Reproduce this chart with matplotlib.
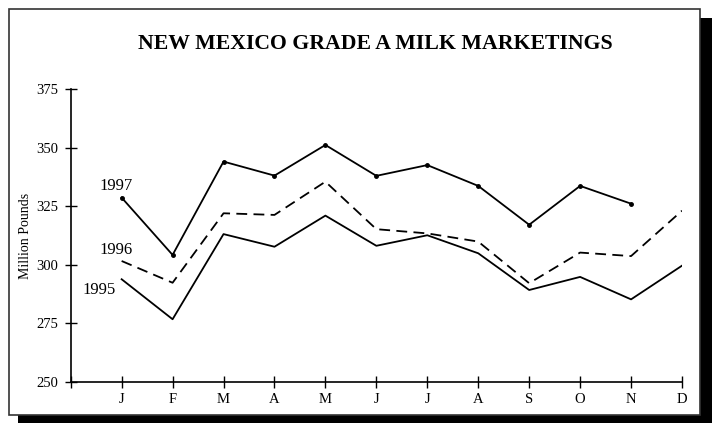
import matplotlib
matplotlib.use("Agg")
import matplotlib.pyplot as plt
from matplotlib.patches import Rectangle

# === Data (million pounds)
months = ['J', 'F', 'M', 'A', 'M', 'J', 'J', 'A', 'S', 'O', 'N', 'D']
y1995 = [293.8, 276.7, 313.1, 307.7, 321.0, 308.1, 312.6, 304.9, 289.2, 294.8, 285.2, 299.6]
y1996 = [301.6, 292.3, 322.0, 321.3, 335.5, 315.2, 313.4, 309.9, 292.1, 305.2, 303.7, 323.1]
y1997 = [328.7, 304.2, 344.1, 338.1, 351.2, 338.0, 342.6, 333.7, 317.1, 333.7, 326.1]
yticks = [250, 275, 300, 325, 350, 375]

plt.rcParams['font.family'] = ['Liberation Serif', 'DejaVu Serif']

W, H = 717, 424
fig = plt.figure(figsize=(W / 100, H / 100), dpi=100)

# === Frame with drop shadow (pixel coords converted to figure fraction)
def px_rect(x0, y0, x1, y1, **kw):
    return Rectangle((x0 / W, 1 - y1 / H), (x1 - x0) / W, (y1 - y0) / H,
                     transform=fig.transFigure, **kw)

fig.patches.append(px_rect(18, 18, 712, 423, facecolor='black', edgecolor='none', zorder=0))
fig.patches.append(px_rect(9, 9, 700, 415, facecolor='white', edgecolor='#333333', lw=1.2, zorder=1))

ax = fig.add_axes([70.7 / W, 1 - 381.7 / H, (682 - 70.7) / W, (381.7 - 89.3) / H])
ax.set_facecolor('none')
ax.set_zorder(5)

x = list(range(1, 13))
ax.plot(x, y1995, color='black', lw=1.3)
ax.plot(x, y1996, color='black', lw=1.3, linestyle=(0, (6, 3.5)))
ax.plot(x[:len(y1997)], y1997, color='black', lw=1.3, marker='o', markersize=2.5)

ax.text(0.9, y1997[0] + 1.5, '1997', ha='center', va='bottom', fontsize=12)
ax.text(0.9, y1996[0] + 1.2, '1996', ha='center', va='bottom', fontsize=12)
ax.text(0.55, y1995[0] - 4.8, '1995', ha='center', va='center', fontsize=12)

ax.set_xlim(0, 12)
ax.set_ylim(250, 375)
ax.set_xticks(range(0, 13))
ax.set_xticklabels([''] + months, fontsize=10.5)
ax.set_yticks(yticks)
ax.set_yticklabels([str(v) for v in yticks], fontsize=10.5)
ax.tick_params(axis='both', direction='inout', length=9, width=1, pad=4.5)
ax.tick_params(axis='x', pad=3.5)
ax.spines['top'].set_visible(False)
ax.spines['right'].set_visible(False)
ax.spines['left'].set_linewidth(1.2)
ax.spines['bottom'].set_linewidth(1.2)
ax.set_ylabel('Million Pounds', fontsize=10, labelpad=3)

fig.text(375 / W, 1 - 44 / H, 'NEW MEXICO GRADE A MILK MARKETINGS',
         ha='center', va='center', fontsize=15.7, fontweight='bold')

fig.savefig('out.png', dpi=100)
plt.close(fig)
